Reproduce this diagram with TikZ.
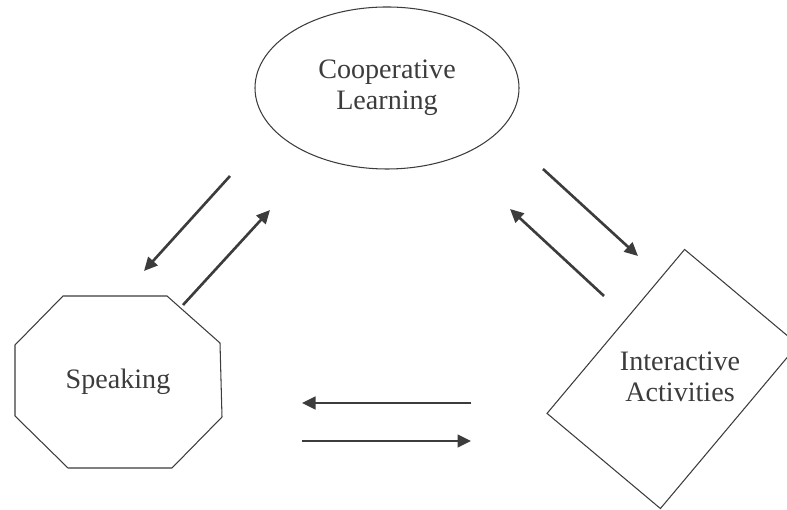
\documentclass[tikz,border=0pt]{standalone}
\usepackage{fontspec}
\setmainfont{Liberation Serif}
\usepackage{xcolor}
\usepackage{tikz}
\usetikzlibrary{shapes, arrows, arrows.meta, positioning, calc}
\definecolor{linegray}{HTML}{3C3C3C}

\begin{document}
\begin{tikzpicture}[
        shapeline/.style={draw=linegray, line width=0.6pt},
        flow/.style={draw=linegray, line width=1.5pt, -{Triangle[length=2.7mm, width=2.5mm]}},
        label/.style={text=linegray, align=center, font=\fontsize{16}{17.5}\selectfont}
    ]
        \useasboundingbox (0,0) rectangle (15.74,10.2);

        \node[shapeline, ellipse, minimum width=5.28cm, minimum height=3.24cm, inner sep=0] (coop) at (7.74,8.44) {};
        \node[label] (cooptext) at (coop) {Cooperative\\Learning};

        \coordinate (spk) at (2.36,2.56);
        \draw[shapeline] ($(spk)+(-1.10,1.72)$) -- ($(spk)+(0.98,1.72)$) -- ($(spk)+(2.04,0.78)$) -- ($(spk)+(2.08,-0.70)$)
            -- ($(spk)+(1.08,-1.72)$) -- ($(spk)+(-1.00,-1.72)$) -- ($(spk)+(-2.06,-0.68)$) -- ($(spk)+(-2.06,0.74)$) -- cycle;% Octagon
        \node[label] (spktext) at (spk) {Speaking};

        \node[shapeline, rectangle, rotate=-40, minimum width=2.96cm, minimum height=4.28cm, inner sep=0] (act) at (13.45,2.62) {};
        \node[label] (acttext) at (13.6,2.66) {Interactive\\Activities};

        \coordinate (a1s) at (4.60,6.68);  \coordinate (a1e) at (2.88,4.78);
        \coordinate (a2s) at (3.66,4.10);  \coordinate (a2e) at (5.40,6.00);
        \coordinate (a3s) at (10.86,6.82); \coordinate (a3e) at (12.76,5.08);
        \coordinate (a4s) at (12.08,4.28); \coordinate (a4e) at (10.20,6.02);
        \coordinate (a5s) at (9.42,2.14);  \coordinate (a5e) at (6.04,2.14);
        \coordinate (a6s) at (6.04,1.38);  \coordinate (a6e) at (9.42,1.38);

        \draw[flow] (a1s) -- (a1e);
        \draw[flow] (a2s) -- (a2e);
        \draw[flow] (a3s) -- (a3e);
        \draw[flow] (a4s) -- (a4e);
        \draw[flow] (a5s) -- (a5e);
        \draw[flow] (a6s) -- (a6e);
    \end{tikzpicture}
\end{document}
